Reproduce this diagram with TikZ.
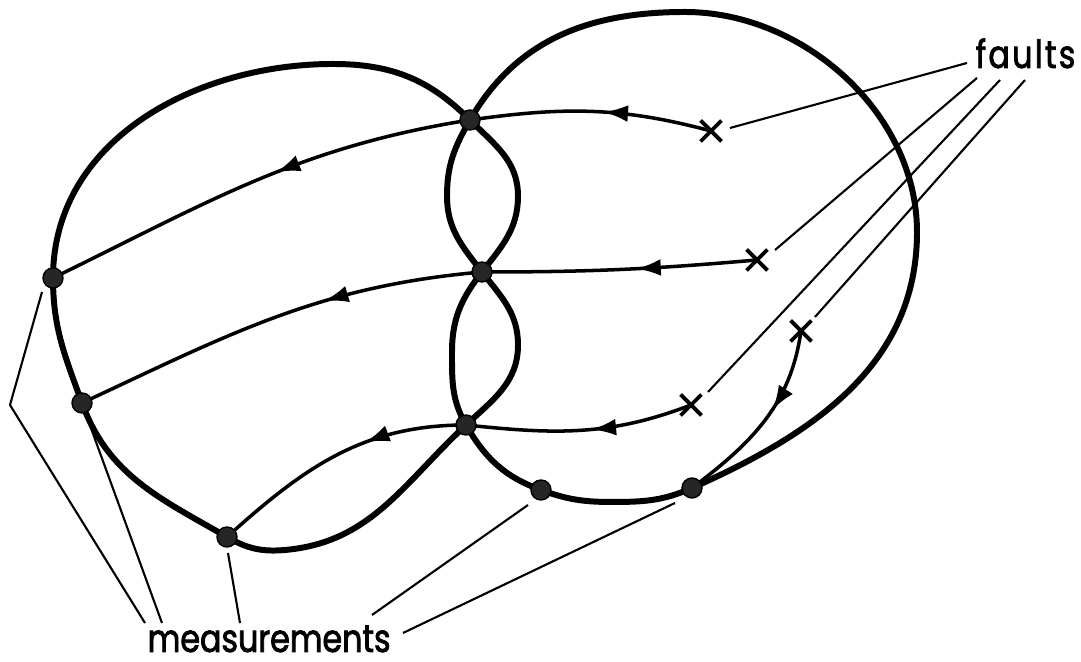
\documentclass[tikz,border=0pt]{standalone}
\usepackage{fontspec}
\setmainfont{Poppins}
\newfontfamily\lblfont{Poppins}[FakeStretch=0.82,FakeBold=2]
\newfontfamily\fltfont{Poppins}[FakeStretch=0.82,FakeBold=2,LetterSpace=6]
\usetikzlibrary{decorations.markings,arrows.meta,shapes.misc}
\begin{document}
\begin{tikzpicture}[x=0.01cm,y=-0.01cm,
 curve/.style={line width=1.7pt, line join=round},
 ray/.style={line width=1.0pt},
 leader/.style={line width=0.6pt},
 dot/.style={circle, fill=black!85, draw=black, line width=0.4pt, inner sep=0pt, minimum size=0.2cm},
 flt/.style={cross out, draw=black, line width=1.1pt, inner sep=0pt, minimum size=0.17cm},
 arr/.style={postaction={decorate}, decoration={markings, mark=at position #1 with {\arrow{Latex[length=7pt,width=4.8pt]}}}},
 lbl/.style={font=\lblfont\fontsize{11}{13}\selectfont, inner sep=0pt},
 lblf/.style={font=\fltfont\fontsize{11}{13}\selectfont, inner sep=0pt}
]
\useasboundingbox (0,0) rectangle (1081,662);
% junction points
\coordinate (A) at (470,120);
\coordinate (M) at (482,272);
\coordinate (C) at (466,425);
\coordinate (L1) at (53,278);
\coordinate (L2) at (82,403);
\coordinate (B) at (227,537);
\coordinate (R1) at (541,490);
\coordinate (R2) at (692,488);
% faults
\node[flt] (X1) at (711,131) {};
\node[flt] (X2) at (757,260) {};
\node[flt] (X3) at (691,405) {};
\node[flt] (X4) at (801,331) {};
% main closed curve
\draw[curve] (B) to[out=-30,in=185] (285,550) to[out=5,in=223] (C)
 to[out=43,in=270] (518,345) to[out=90,in=-52] (M)
 to[out=128,in=270] (447,196) to[out=90,in=240] (A)
 to[out=60,in=180] (685,12) to[out=0,in=90,looseness=0.95] (917,232)
 to[out=270,in=24] (R2) to[out=204,in=0] (612,502) to[out=180,in=-20] (R1)
 to[out=160,in=-60] (C)
 to[out=120,in=270] (452,352) to[out=90,in=232] (M)
 to[out=52,in=270] (518,196) to[out=90,in=-45] (A)
 to[out=135,in=0] (333,64) to[out=180,in=90] (L1)
 to[out=270,in=110] (L2) to[out=-70,in=150] (B) -- cycle;
% fault paths
\draw[ray, arr=0.45] (X1.center) to[out=165,in=8] (A);
\draw[ray, arr=0.45] (A) to[out=189,in=26] (L1);
\draw[ray, arr=0.44] (X2.center) to[out=185,in=0] (M);
\draw[ray, arr=0.38] (M) to[out=185,in=25] (L2);
\draw[ray, arr=0.45] (X3.center) to[out=201,in=-6] (C);
\draw[ray, arr=0.38] (C) to[out=180,in=42] (B);
\draw[ray, arr=0.43] (X4.center) to[out=262,in=37] (R2);
% dots
\foreach \p in {A,M,C,L1,L2,B,R1,R2} \node[dot] (d\p) at (\p) {};
% labels
\node[lblf, anchor=base west] (faults) at (975,68) {faults};
\node[lbl, anchor=base west] (meas) at (147,652) {measurements};
% faults leaders
\coordinate (f0) at (967,63); \coordinate (f1) at (730,128);
\coordinate (g0) at (977,78); \coordinate (g1) at (775,250);
\coordinate (h0) at (1000,80); \coordinate (h1) at (708,392);
\coordinate (k0) at (1025,80); \coordinate (k1) at (815,317);
\draw[leader] (f0) -- (f1);
\draw[leader] (g0) -- (g1);
\draw[leader] (h0) -- (h1);
\draw[leader] (k0) -- (k1);
% measurement leaders
\coordinate (m1a) at (42,292); \coordinate (m1b) at (10,405); \coordinate (m1c) at (145,623);
\coordinate (m2a) at (88,420); \coordinate (m2b) at (162,623);
\coordinate (m3a) at (228,553); \coordinate (m3b) at (240,623);
\coordinate (m4a) at (528,505); \coordinate (m4b) at (372,615);
\coordinate (m5a) at (675,503); \coordinate (m5b) at (403,633);
\draw[leader] (m1a) -- (m1b) -- (m1c);
\draw[leader] (m2a) -- (m2b);
\draw[leader] (m3a) -- (m3b);
\draw[leader] (m4a) -- (m4b);
\draw[leader] (m5a) -- (m5b);
\end{tikzpicture}
\end{document}
